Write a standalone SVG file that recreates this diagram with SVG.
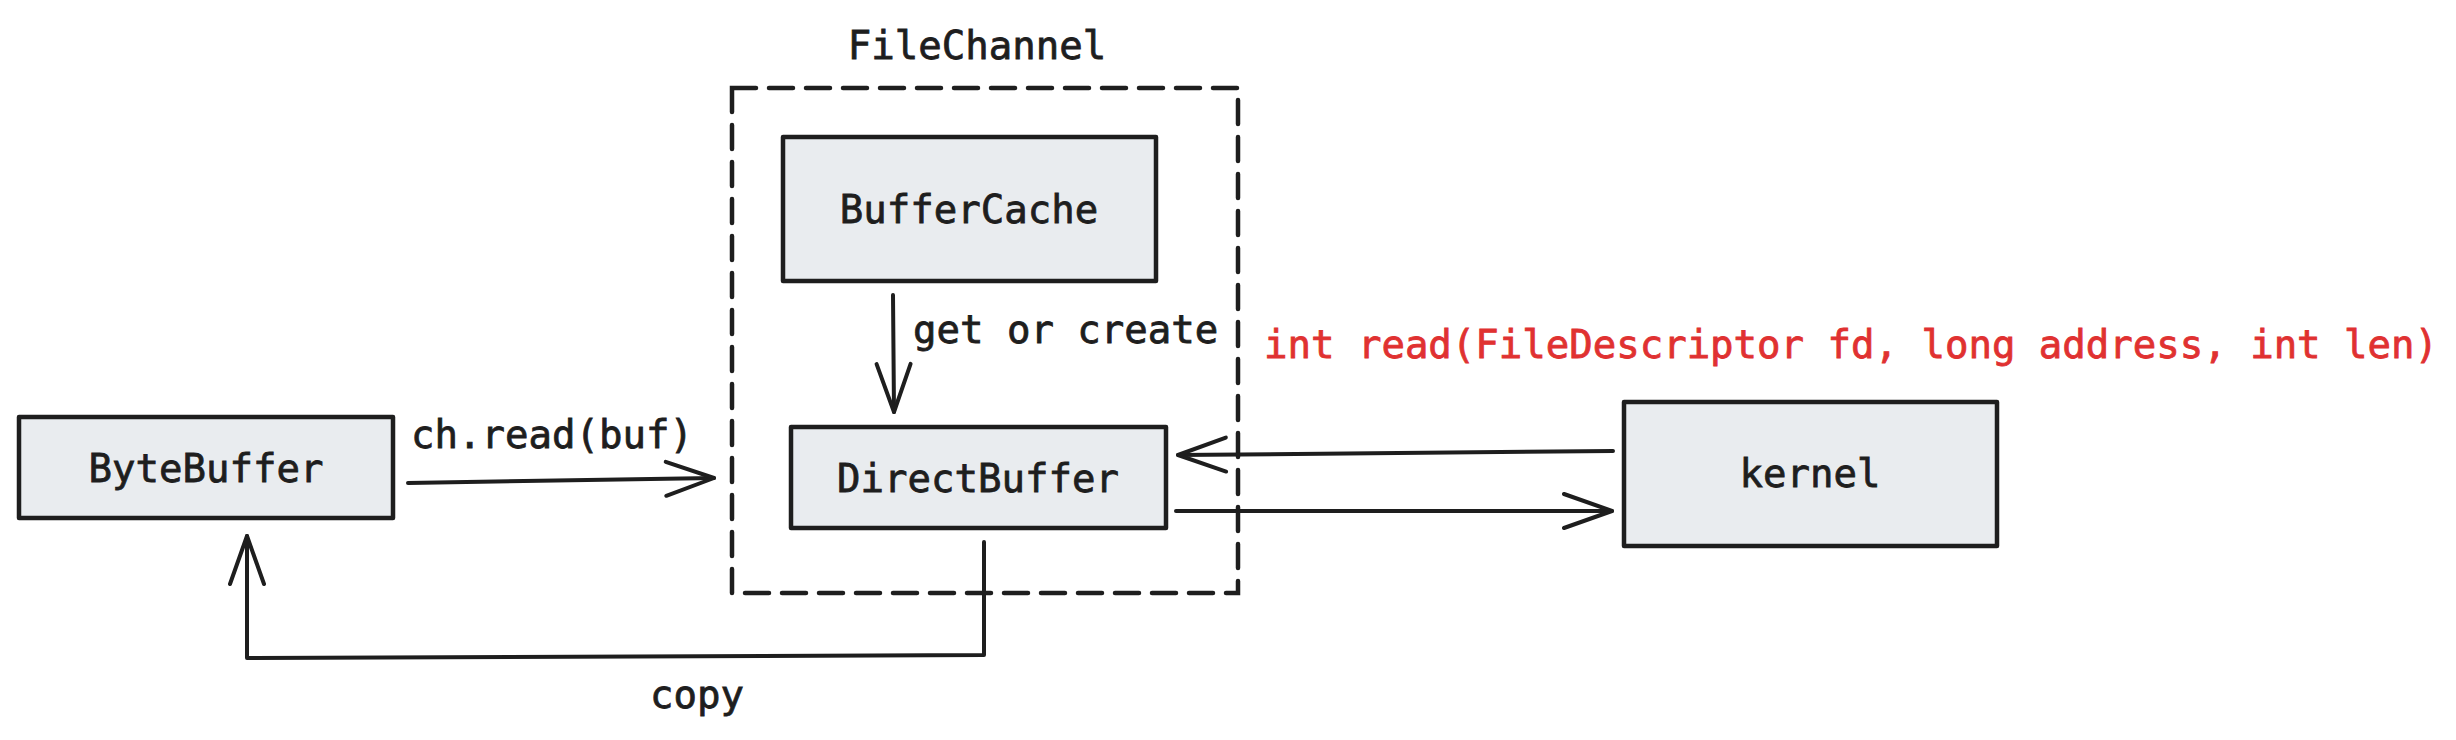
<svg xmlns="http://www.w3.org/2000/svg" width="2456" height="740" viewBox="0 0 2456 740">
  <style>
    .box { fill: #e9ecef; stroke: #1e1e1e; stroke-width: 4.5; stroke-linejoin: round; }
    .frame { fill: none; stroke: #1e1e1e; stroke-width: 4.5; stroke-dasharray: 24 13; stroke-linecap: round; }
    .t { font-family: "DejaVu Sans Mono", "Liberation Mono", monospace; font-size: 39px; fill: #1e1e1e; stroke: #1e1e1e; stroke-width: 0.8; }
    .mid { text-anchor: middle; }
    .red { fill: #e03131; stroke: #e03131; }
    .conn { fill: none; stroke: #1e1e1e; stroke-width: 4; stroke-linecap: round; stroke-linejoin: round; }
  </style>
  <defs>
    <marker id="ah" markerUnits="userSpaceOnUse" markerWidth="60" markerHeight="40" refX="50" refY="20" orient="auto" overflow="visible">
      <path d="M2 3 L50 20 L2 37" fill="none" stroke="#1e1e1e" stroke-width="4" stroke-linecap="round" stroke-linejoin="round"/>
    </marker>
  </defs>
  <rect width="2456" height="740" fill="#ffffff"/>

  <g id="filechannel">
    <rect class="frame" x="732" y="88" width="506" height="505"/>
    <text class="t mid" x="977" y="59">FileChannel</text>
  </g>

  <g id="buffercache">
    <rect class="box" x="783" y="137" width="373" height="144"/>
    <text class="t mid" x="969" y="223">BufferCache</text>
  </g>

  <g id="directbuffer">
    <rect class="box" x="791" y="427" width="375" height="101"/>
    <text class="t mid" x="978" y="492">DirectBuffer</text>
  </g>

  <g id="bytebuffer">
    <rect class="box" x="19" y="417" width="374" height="101"/>
    <text class="t mid" x="206" y="482">ByteBuffer</text>
  </g>

  <g id="kernel">
    <rect class="box" x="1624" y="402" width="373" height="144"/>
    <text class="t mid" x="1810" y="487">kernel</text>
  </g>

  <g id="connectors">
    <path class="conn" d="M893 295 L894 412" marker-end="url(#ah)"/>
    <path class="conn" d="M408 483 L714 478" marker-end="url(#ah)"/>
    <path class="conn" d="M1613 451 L1178 455" marker-end="url(#ah)"/>
    <path class="conn" d="M1176 511 L1612 511" marker-end="url(#ah)"/>
    <path class="conn" d="M984 542 L984 655 L247 658 L247 536" marker-end="url(#ah)"/>
  </g>

  <g id="labels">
    <text class="t" x="913" y="343">get or create</text>
    <text class="t mid" x="552" y="448">ch.read(buf)</text>
    <text class="t mid red" x="1851" y="358">int read(FileDescriptor fd, long address, int len)</text>
    <text class="t mid" x="697" y="708">copy</text>
  </g>
</svg>
